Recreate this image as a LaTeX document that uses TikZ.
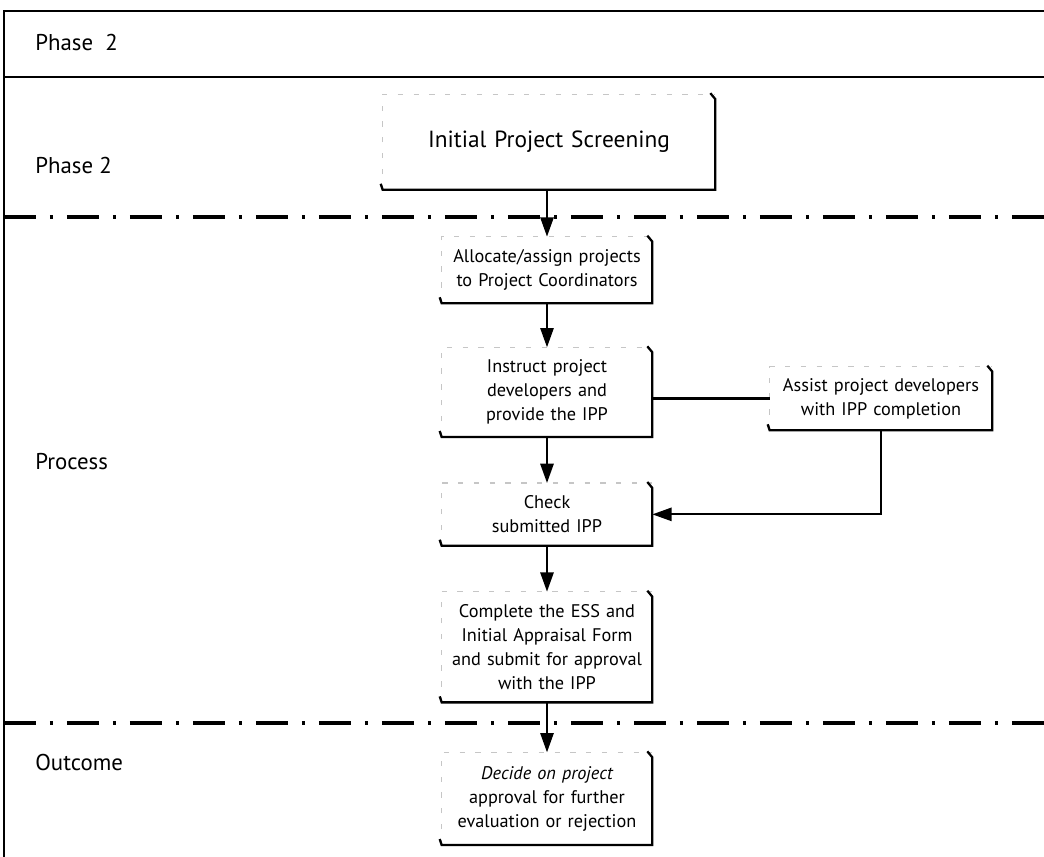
\documentclass[tikz,border=0pt]{standalone}
\usepackage{fontspec}
\setmainfont{PT Sans}
\usetikzlibrary{positioning,calc,arrows.meta}

\tikzset{
  stepbox/.style={rectangle, minimum width=4.2cm, text width=4.1cm, align=center, inner sep=0pt, font=\fontsize{10.4}{13.6}\selectfont},
  faintedge/.style={gray!45, line width=0.6pt, dash pattern=on 3pt off 6pt},
  heavyedge/.style={black, line width=1.3pt},
  flow/.style={-{Triangle[length=11pt,width=7.5pt]}, line width=1.3pt},
  lanelabel/.style={anchor=west, inner sep=0pt, font=\fontsize{13}{15}\selectfont},
  lanesep/.style={line width=1.8pt, dash pattern=on 0.64cm off 0.28cm on 0.06cm off 0.28cm},
}

\begin{document}
\begin{tikzpicture}[x=0.02cm, y=-0.02cm]
\useasboundingbox (0,0) rectangle (1044,857);

% frame and lane separators
\draw[line width=1.1pt] (1044,11) -- (4,11) -- (4,857);
\draw[line width=1.1pt] (4,77) -- (1044,77);
\draw[lanesep] (4,217) -- (1044,217);
\draw[lanesep] (4,723) -- (1044,723);

% lane labels
\node[lanelabel] (hdr) at (35,43) {Phase~~2};
\node[lanelabel] (lphase) at (35,166) {Phase 2};
\node[lanelabel] (lproc) at (35,462) {Process};
\node[lanelabel] (lout) at (35,763) {Outcome};

% steps
\node[stepbox, minimum width=6.64cm, text width=6.4cm, minimum height=1.9cm, font=\fontsize{13.3}{15}\selectfont] (screen) at (549,142) {Initial Project Screening};
\node[stepbox, minimum height=1.32cm] (alloc) at (547,270) {Allocate/assign projects\\to Project Coordinators};
\node[stepbox, minimum height=1.78cm, below=0.88cm of alloc] (instr) {Instruct project\\developers and\\provide the IPP};
\node[stepbox, minimum height=1.24cm, below=0.92cm of instr] (check) {Check\\submitted IPP};
\node[stepbox, minimum height=2.2cm, below=0.92cm of check] (compl) {Complete the ESS and\\Initial Appraisal Form\\and submit for approval\\with the IPP};
\node[stepbox, minimum height=1.84cm, below=1.0cm of compl] (decide) {{\itshape Decide on project}\\approval for further\\evaluation or rejection};
\node[stepbox, minimum width=4.44cm, text width=4.4cm, minimum height=1.26cm] (assist) at (881,398.5) {Assist project developers\\with IPP completion};

% box edges: faint top/left, heavy right/bottom
\foreach \n in {screen,alloc,instr,assist,check,compl,decide}{
  \draw[faintedge] (\n.south west) -- (\n.north west) -- (\n.north east);
  \draw[heavyedge] ($(\n.north east)+(-5,-1)$) -- ($(\n.north east)+(0,5)$) -- (\n.south east) -- (\n.south west) -- ($(\n.south west)+(-2,-6)$);
}

% connectors
\draw[flow] (screen.south -| alloc.north) -- (alloc.north);
\draw[flow] (alloc) -- (instr);
\draw[flow] (instr) -- (check);
\draw[flow] (check) -- (compl);
\draw[flow] (compl) -- (decide);
\draw[heavyedge] (instr.east |- assist.west) -- (assist.west);
\draw[flow] (assist.south) |- (check.east);
\end{tikzpicture}
\end{document}
